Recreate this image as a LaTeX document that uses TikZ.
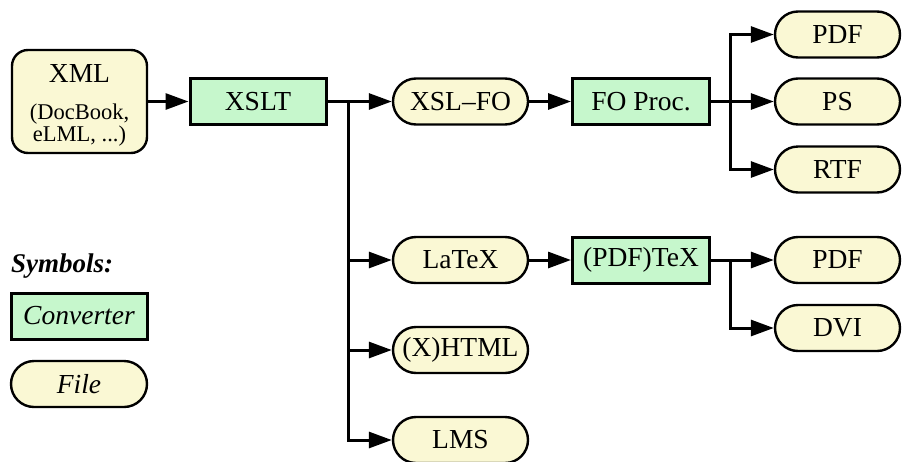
\documentclass[tikz,border=0pt]{standalone}
\usepackage{fontspec}
\setmainfont{Liberation Serif}
\usetikzlibrary{arrows.meta}
\definecolor{fileY}{RGB}{250,248,212}
\definecolor{convG}{RGB}{198,247,204}
\begin{document}
\begin{tikzpicture}[x=1pt,y=-1pt,
  big/.style={font=\fontsize{27.5}{30}\selectfont},
  small/.style={font=\fontsize{22.5}{25}\selectfont},
  conv/.style={draw, line width=3pt, fill=convG, minimum width=136pt, minimum height=46pt, inner sep=0pt, big},
  file/.style={draw, line width=2.4pt, fill=fileY, rounded corners=23pt, minimum width=135pt, minimum height=46pt, inner sep=0pt, big},
  ln/.style={line width=3pt},
  arr/.style={line width=3pt, -{Triangle[length=23pt,width=16pt]}}]
\useasboundingbox (0,0) rectangle (902,461);

% nodes
\node[file, rounded corners=16pt, minimum height=103pt] (xml) at (79.5,101.5) {};
\node[big, anchor=base, inner sep=0pt] (xmlt) at (79.5,82) {XML};
\node[small, anchor=base, inner sep=0pt] (xmld) at (79.5,119.5) {(DocBook,};
\node[small, anchor=base, inner sep=0pt] (xmle) at (79.5,141) {eLML, ...)};

\node[conv] (xslt) at (258,101.5) {XSLT};
\node[file] (xslfo) at (460.5,101.5) {XSL--FO};
\node[conv, minimum width=137pt] (fo) at (641,101.5) {FO Proc.};
\node[file, minimum width=125pt] (pdf1) at (837.5,34.5) {PDF};
\node[file, minimum width=125pt] (ps) at (837.5,101.5) {PS};
\node[file, minimum width=125pt] (rtf) at (837.5,169.5) {RTF};

\node[file] (latex) at (460.5,260) {LaTeX};
\node[conv, minimum width=137pt] (tex) at (641,260) {(PDF)TeX};
\node[file, minimum width=125pt] (pdf2) at (837.5,260) {PDF};
\node[file, minimum width=125pt] (dvi) at (837.5,328) {DVI};

\node[file] (html) at (460.5,350) {(X)HTML};
\node[file] (lms) at (460.5,440) {LMS};

% legend
\node[anchor=base west, font=\fontsize{27}{30}\selectfont\bfseries\itshape, inner sep=0pt] (sym) at (11,272) {Symbols:};
\node[conv, font=\fontsize{27.5}{30}\selectfont\itshape] (lconv) at (79,316) {Converter};
\node[file, font=\fontsize{27.5}{30}\selectfont\itshape, minimum width=136pt] (lfile) at (79,384) {File};

% connectors
\coordinate (b1) at (348,101.5);
\coordinate (b2) at (730,101.5);
\coordinate (b3) at (730,260);

\draw[arr] (xml) -- (xslt);
\draw[ln] (xslt.east) -- (b1);
\draw[arr] (b1) -- (xslfo);
\draw[arr] (b1) |- (latex.west);
\draw[arr] (b1) |- (html.west);
\draw[arr] (b1) |- (lms.west);

\draw[arr] (xslfo) -- (fo);
\draw[ln] (fo.east) -- (b2);
\draw[arr] (b2) |- (pdf1.west);
\draw[arr] (b2) -- (ps);
\draw[arr] (b2) |- (rtf.west);

\draw[arr] (latex) -- (tex);
\draw[ln] (tex.east) -- (b3);
\draw[arr] (b3) -- (pdf2);
\draw[arr] (b3) |- (dvi.west);
\end{tikzpicture}
\end{document}
